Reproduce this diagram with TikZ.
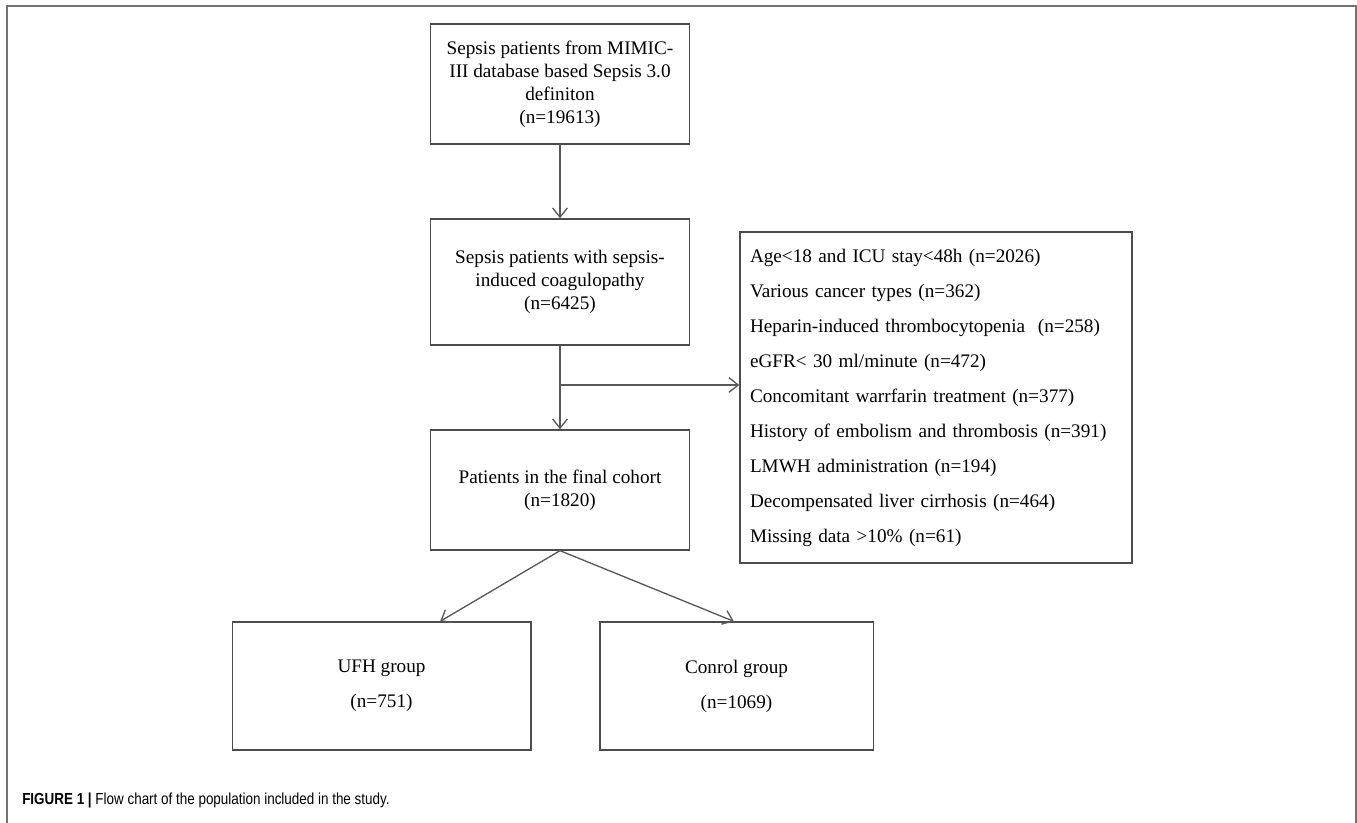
\documentclass[tikz,border=0pt]{standalone}
\usepackage{fontspec}
\setmainfont{Liberation Serif}
\newfontfamily\capfont[FakeStretch=0.84]{Liberation Sans}
\usetikzlibrary{arrows.meta,positioning,calc}

\begin{document}
\begin{tikzpicture}[x=0.75pt,y=-0.75pt,
	box/.style={draw=black!70,line width=1pt,align=center,inner sep=0pt,font=\fontsize{14.4}{17.25}\selectfont},
	flow/.style={draw=black!65,line width=1pt,-{Straight Barb[length=7pt,width=11pt]}}]
	\useasboundingbox (0,0) rectangle (1357,823);
	\draw[black!55,line width=1.5pt] (7,823) -- (7,6) -- (1356,6) -- (1356,823);
	% boxes of the flow
	\node[box,minimum width=194pt,minimum height=90pt] (source) at (560,84) {Sepsis patients from MIMIC-\\III database based Sepsis 3.0\\definiton\\(n=19613)};
	\node[box,minimum width=194pt,minimum height=94.5pt] (sic) at (560,282) {Sepsis patients with sepsis-\\induced coagulopathy\\(n=6425)};
	\node[box,minimum width=194pt,minimum height=90pt] (cohort) at (560,490) {Patients in the final cohort\\(n=1820)};
	\node[box,minimum width=224pt,minimum height=96pt,font=\fontsize{14.4}{26.25}\selectfont] (ufh) at (381.5,686) {UFH group\\(n=751)};
	\node[box,minimum width=205pt,minimum height=96pt,font=\fontsize{14.4}{26.25}\selectfont] (control) at (736.5,686) {Conrol group\\(n=1069)};
	\node[box,align=left,text width=279pt,inner xsep=7.5pt,minimum height=248pt,font=\fontsize{14.4}{26.25}\selectfont] (excluded) at (936,397.5) {Age<18 and ICU stay<48h (n=2026)\\
		Various cancer types (n=362)\\
		Heparin-induced thrombocytopenia~ (n=258)\\
		eGFR< 30 ml/minute (n=472)\\
		Concomitant warrfarin treatment (n=377)\\
		History of embolism and thrombosis (n=391)\\
		LMWH administration (n=194)\\
		Decompensated liver cirrhosis (n=464)\\
		Missing data >10\% (n=61)};
	% connectors
	\draw[flow] (source) -- (sic);
	\draw[flow] (sic) -- (cohort);
	\coordinate (split) at ($(sic.south)!0.47!(cohort.north)$);
	\draw[flow] (split) -- (split -| excluded.west);
	\draw[flow] (cohort.south) -- ([xshift=44pt]ufh.north);
	\draw[flow] (cohort.south) -- ([xshift=-2pt]control.north);
	\node[anchor=west,inner sep=0pt,font=\capfont\fontsize{12}{14}\selectfont] (caption) at (22,800) {\textbf{FIGURE 1 |} Flow chart of the population included in the study.};
\end{tikzpicture}
\end{document}
